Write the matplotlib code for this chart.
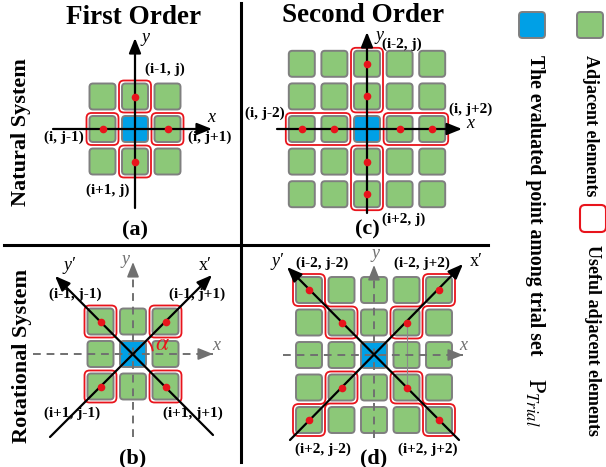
import numpy as np
import matplotlib
matplotlib.use("Agg")
import matplotlib.pyplot as plt
from matplotlib.patches import FancyBboxPatch, PathPatch, Arc
from matplotlib.path import Path

plt.rcParams["font.family"] = ["Liberation Serif", "DejaVu Serif"]
plt.rcParams["mathtext.fontset"] = "stix"

# grid layouts: (row offset, col offset) relative to the evaluated point
first_grid = [-1, 0, 1]
second_grid = [-2, -1, 0, 1, 2]

# useful neighbours of the natural system
first_useful = [(-1, 0), (0, -1), (0, 1), (1, 0)]
second_groups = [[(-2, 0), (-1, 0)], [(0, -2), (0, -1)], [(0, 1), (0, 2)], [(1, 0), (2, 0)]]

# useful neighbours of the rotational system
rot_first_useful = [(-1, -1), (-1, 1), (1, -1), (1, 1)]
rot_second_groups = [[(-2, -2), (-1, -1)], [(-2, 2), (-1, 1)], [(2, -2), (1, -1)], [(2, 2), (1, 1)]]

labels_a = ["(i-1, j)", "(i, j-1)", "(i, j+1)", "(i+1, j)"]
labels_b = ["(i-1, j-1)", "(i-1, j+1)", "(i+1, j-1)", "(i+1, j+1)"]
labels_c = ["(i-2, j)", "(i, j-2)", "(i, j+2)", "(i+2, j)"]
labels_d = ["(i-2, j-2)", "(i-2, j+2)", "(i+2, j-2)", "(i+2, j+2)"]
panel_tags = ["(a)", "(c)", "(b)", "(d)"]

GREEN = "#8cc878"
BLUE = "#00a0e6"
RED = "#e8141c"
EDGE = "#7f7f7f"
GREY = "#707070"

CELL = 26.0
HALF = 16.0   # half size of red outline

fig = plt.figure(figsize=(6.06, 4.67), dpi=100)
ax = fig.add_axes([0, 0, 1, 1])
ax.set_xlim(0, 606)
ax.set_ylim(467, 0)
ax.axis("off")


def cell(x, y, color, size=CELL, z=2):
    ax.add_patch(FancyBboxPatch((x - size / 2 + 3.5, y - size / 2 + 3.5), size - 7, size - 7,
                                boxstyle="round,pad=3.5", fc=color, ec=EDGE, lw=1.4, zorder=z))


def red_box(x0, y0, x1, y1):
    ax.add_patch(FancyBboxPatch((x0 + 5, y0 + 5), x1 - x0 - 10, y1 - y0 - 10,
                                boxstyle="round,pad=5", fc="none", ec=RED, lw=1.3, zorder=3))


def rounded_poly(verts, r=5.5):
    verts = np.asarray(verts, float)
    n = len(verts)
    pts, codes = [], []
    for k in range(n):
        p0, p1, p2 = verts[k - 1], verts[k], verts[(k + 1) % n]
        d0 = (p0 - p1) / np.linalg.norm(p0 - p1)
        d2 = (p2 - p1) / np.linalg.norm(p2 - p1)
        pts.append(p1 + d0 * r)
        codes.append(Path.MOVETO if k == 0 else Path.LINETO)
        pts += [p1, p1 + d2 * r]
        codes += [Path.CURVE3, Path.CURVE3]
    pts.append(pts[0])
    codes.append(Path.CLOSEPOLY)
    ax.add_patch(PathPatch(Path(pts, codes), fc="none", ec=RED, lw=1.3, zorder=3))


def stair(ax_, ay, bx, by):
    sx = np.sign(bx - ax_)
    sy = np.sign(by - ay)
    dx, dy = abs(bx - ax_), abs(by - ay)
    h = HALF
    local = [(-h, -h), (h, -h), (h, dy - h), (dx + h, dy - h),
             (dx + h, dy + h), (dx - h, dy + h), (dx - h, h), (-h, h)]
    rounded_poly([(ax_ + sx * u, ay + sy * v) for u, v in local])


def arrow(x0, y0, x1, y1, color="k", lw=1.6):
    ax.annotate("", xy=(x1, y1), xytext=(x0, y0),
                arrowprops=dict(arrowstyle="-|>,head_length=0.75,head_width=0.3",
                                color=color, lw=lw, mutation_scale=12,
                                shrinkA=0, shrinkB=0), zorder=5)


def dashed_arrow(x0, y0, x1, y1):
    ax.plot([x0, x1], [y0, y1], color=GREY, lw=1.4, ls=(0, (4, 3)), zorder=4)
    ux, uy = (x1 - x0), (y1 - y0)
    L = np.hypot(ux, uy)
    arrow(x1 - ux / L * 8, y1 - uy / L * 8, x1, y1, color=GREY, lw=1.2)


def dot(x, y):
    ax.plot(x, y, "o", color=RED, ms=5.5, mec="none", zorder=6)


def label(x, y, s, size=11):
    ax.text(x, y, s, ha="center", va="center", fontsize=size, fontweight="bold", zorder=7)


def axis_name(x, y, s, color="k", style="italic"):
    ax.text(x, y, s, ha="center", va="center", fontsize=13, color=color,
            style=style, zorder=7)


# ---- (a) first order, natural system
cx, cy, sp = 135, 129, 32.5
for r in first_grid:
    for c in first_grid:
        cell(cx + c * sp, cy + r * sp, BLUE if (r, c) == (0, 0) else GREEN)
for r, c in first_useful:
    red_box(cx + c * sp - HALF, cy + r * sp - HALF, cx + c * sp + HALF, cy + r * sp + HALF)
arrow(53, cy, 212, cy)
arrow(cx, 208, cx, 38)
for r, c in first_useful:
    dot(cx + c * sp, cy + r * sp)
axis_name(211, 118, "x")
axis_name(146, 38, "y")
for (x, y), s in zip([(165, 69), (64, 137), (210, 137), (108, 190)], labels_a):
    label(x, y, s)

# ---- (c) second order, natural system
cx, cy, sp = 367, 129, 32.6
for r in second_grid:
    for c in second_grid:
        cell(cx + c * sp, cy + r * sp, BLUE if (r, c) == (0, 0) else GREEN)
for grp in second_groups:
    xs = [cx + c * sp for r, c in grp]
    ys = [cy + r * sp for r, c in grp]
    red_box(min(xs) - HALF, min(ys) - HALF, max(xs) + HALF, max(ys) + HALF)
arrow(277, cy, 462, cy)
arrow(cx, 213, cx, 32)
for grp in second_groups:
    for r, c in grp:
        dot(cx + c * sp, cy + r * sp)
axis_name(470, 123, "x")
axis_name(379, 35, "y")
for (x, y), s in zip([(402, 44), (265, 113), (471, 109), (404, 219)], labels_c):
    label(x, y, s)

# ---- (b) first order, rotational system
cx, cy, sp = 133, 354, 32.5
for r in first_grid:
    for c in first_grid:
        cell(cx + c * sp, cy + r * sp, BLUE if (r, c) == (0, 0) else GREEN)
for r, c in rot_first_useful:
    red_box(cx + c * sp - HALF, cy + r * sp - HALF, cx + c * sp + HALF, cy + r * sp + HALF)
dashed_arrow(33, cy, 213, cy)
dashed_arrow(cx, 437, cx, 262)
arrow(50, 437, 212, 275)
arrow(213, 435, 55, 276)
for r, c in rot_first_useful:
    dot(cx + c * sp, cy + r * sp)
ax.add_patch(Arc((cx, cy), 40, 40, theta1=-42, theta2=-8, color=RED, lw=1.3, zorder=6))
ax.text(162, 345, r"$\alpha$", ha="center", va="center", fontsize=17, color=RED, zorder=7)
axis_name(216, 345, "x", GREY)
axis_name(125, 259, "y", GREY)
axis_name(205, 266, "x\u2032", style="normal")
axis_name(69, 266, "y\u2032")
for (x, y), s in zip([(75, 294), (197, 294), (72, 413), (193, 413)], labels_b):
    label(x, y, s)

# ---- (d) second order, rotational system
cx, cy, sp = 374, 355, 32.5
for r in second_grid:
    for c in second_grid:
        cell(cx + c * sp, cy + r * sp, BLUE if (r, c) == (0, 0) else GREEN)
for (r0, c0), (r1, c1) in rot_second_groups:
    stair(cx + c0 * sp, cy + r0 * sp, cx + c1 * sp, cy + r1 * sp)
ax.plot([cx + sp, cx + sp], [cy - sp, cy + sp], color="#8a8a8a", lw=0.8, zorder=4)
dashed_arrow(283, cy, 463, cy)
dashed_arrow(cx, 438, cx, 265)
arrow(290, 440, 463, 264)
arrow(459, 440, 287, 267)
for grp in rot_second_groups:
    for r, c in grp:
        dot(cx + c * sp, cy + r * sp)
axis_name(463, 345, "x", GREY)
axis_name(376, 253, "y", GREY)
axis_name(476, 262, "x\u2032", style="normal")
axis_name(278, 262, "y\u2032")
for (x, y), s in zip([(322, 263), (422, 263), (323, 449), (428, 449)], labels_d):
    label(x, y, s)

# ---- headings, panel tags and separators
ax.text(134, 17, "First Order", ha="center", va="center", fontsize=19.5, fontweight="bold")
ax.text(363, 15, "Second Order", ha="center", va="center", fontsize=19.5, fontweight="bold")
ax.text(21, 132, "Natural System", ha="center", va="center", rotation=90,
        fontsize=16, fontweight="bold")
ax.text(22, 356, "Rotational System", ha="center", va="center", rotation=90,
        fontsize=16, fontweight="bold")
for (x, y), s in zip([(135, 230), (367, 229), (133, 458), (374, 458)], panel_tags):
    ax.text(x, y, s, ha="center", va="center", fontsize=16, fontweight="bold")

ax.plot([241, 241], [3, 462], color="k", lw=2.2, zorder=8)
ax.plot([4, 488], [245, 245], color="k", lw=2.2, zorder=8)

# ---- legend column
cell(590, 25, GREEN, size=26)
cell(532, 25, BLUE, size=26)
ax.add_patch(FancyBboxPatch((580 + 5, 205 + 5), 26 - 10, 27 - 10, boxstyle="round,pad=5",
                            fc="none", ec=RED, lw=1.5))
ax.text(590, 55, "Adjacent elements", ha="center", va="top", rotation=-90,
        fontsize=13, fontweight="bold")
ax.text(593, 245, "Useful adjacent elements", ha="center", va="top", rotation=-90,
        fontsize=13, fontweight="bold")
ax.text(535, 55, "The evaluated point among trial set", ha="center", va="top", rotation=-90,
        fontsize=14.3, fontweight="bold")
ax.text(535, 378, r"$\mathrm{P}_{Trial}$", ha="center", va="top", rotation=-90, fontsize=17)

fig.savefig("out.png", dpi=100)
